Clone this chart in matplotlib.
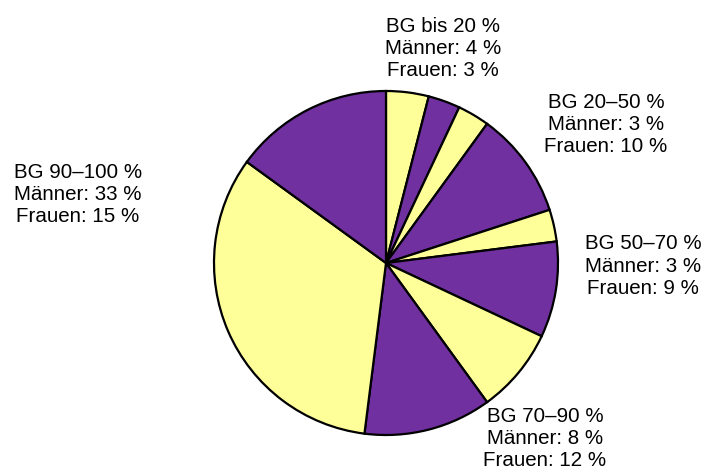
import matplotlib.pyplot as plt

plt.rcParams['font.family'] = ['Liberation Sans', 'DejaVu Sans']

# shares per BG group, men then women, clockwise from the top
groups = ["BG bis 20 %", "BG 20–50 %", "BG 50–70 %", "BG 70–90 %", "BG 90–100 %"]
maenner = [4, 3, 3, 8, 33]
frauen = [3, 10, 9, 12, 15]

gelb = "#FFFF99"
lila = "#7030A0"

sizes = []
colors = []
for m, f in zip(maenner, frauen):
    sizes += [m, f]
    colors += [gelb, lila]

fig = plt.figure(figsize=(7.09, 4.77), dpi=100)
ax = fig.add_axes([0, 0, 1, 1])

ax.pie(sizes, colors=colors, startangle=90, counterclock=False,
       center=(386, 213), radius=172, frame=True,
       wedgeprops=dict(edgecolor="black", linewidth=1.6))
ax.set_xlim(0, 709)
ax.set_ylim(0, 477)
ax.set_aspect("equal")
ax.axis("off")

# label positions (x, y) in pixels from the top-left
pos = [(443, 48), (606, 125), (643, 266), (545, 439), (78, 195)]
for g, m, f, (x, y) in zip(groups, maenner, frauen, pos):
    txt = "%s\nMänner: %d %%\nFrauen: %d %%" % (g, m, f)
    ax.text(x, 477 - y, txt, ha="center", va="center", fontsize=14.8,
            linespacing=1.2, multialignment="center")

fig.savefig("out.png", dpi=100)
